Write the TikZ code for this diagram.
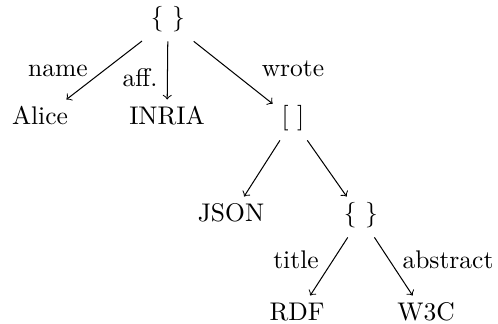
\documentclass[tikz,border=0pt]{standalone}
\begin{document}
\begin{tikzpicture}[x=0.392pt,y=-0.392pt,
  tn/.style={anchor=base, text height=1.5ex, text depth=0.25em, inner sep=0.333em},
  lab/.style={anchor=base, inner sep=0pt},
  edge/.style={->}]
\useasboundingbox (0,0) rectangle (498,324);
% tree nodes
\node[tn] (root) at (168,26) {\{ \}};
\node[tn] (alice) at (40,125) {Alice};
\node[tn] (inria) at (167,125) {INRIA};
\node[tn] (arr) at (293,125) {[ ]};
\node[tn] (json) at (231,222) {JSON};
\node[tn] (obj) at (361,222) {\{ \}};
\node[tn] (rdf) at (297,321) {RDF};
\node[tn] (wtc) at (426,321) {W3C};
% edges
\draw[edge] (root) -- (alice);
\draw[edge] (root) -- (inria);
\draw[edge] (root) -- (arr);
\draw[edge] (arr) -- (json);
\draw[edge] (arr) -- (obj);
\draw[edge] (obj) -- (rdf);
\draw[edge] (obj) -- (wtc);
% labels
\node[lab] (lname) at (58,77) {name};
\node[lab] (laff) at (140,87) {aff.};
\node[lab] (lwrote) at (293,77) {wrote};
\node[lab] (ltitle) at (296,269) {title};
\node[lab] (labs) at (448,269) {abstract};
\end{tikzpicture}
\end{document}
